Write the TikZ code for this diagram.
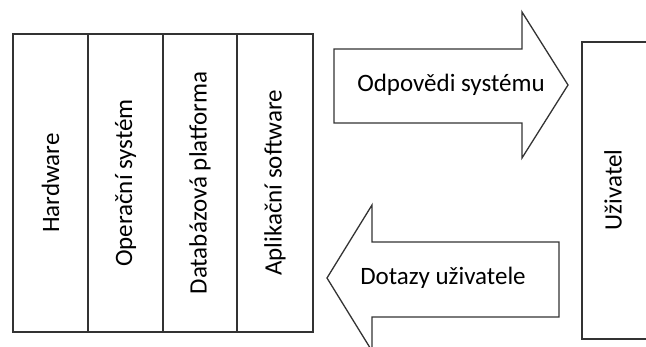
\documentclass[tikz,border=0pt]{standalone}
\usepackage{fontspec}
\setmainfont{Carlito}
\begin{document}
\begin{tikzpicture}[x=1pt,y=1pt,line width=1.3pt,draw=black!80,
  lbl/.style={font=\fontsize{25}{30}\selectfont,inner sep=0pt}]
\useasboundingbox (0,0) rectangle (646,347);
\clip (0,0) rectangle (646,347);
% vrstvy
\coordinate (L1) at (13,15);
\coordinate (L2) at (313,313);
\draw (L1) rectangle (L2);
\foreach \x in {88,163,237} \draw (\x,15)--(\x,313);
\node[lbl,rotate=90] (hw) at (50.5,164) {Hardware};
\node[lbl,rotate=90] (os) at (125.5,164) {Operační systém};
\node[lbl,rotate=90] (db) at (200,164) {Databázová platforma};
\node[lbl,rotate=90] (app) at (275,164) {Aplikační software};
% odpovedi
\draw (334,298)--(522,298)--(522,335)--(568,262)--(522,189)--(522,224)--(334,224)--cycle;
\node[lbl] (odp) at (451,262) {Odpovědi systému};
% dotazy
\draw (559,105)--(372,105)--(372,142)--(327,69)--(372,-4)--(372,30)--(559,30)--cycle;
\node[lbl] (dot) at (443,69) {Dotazy uživatele};
% uzivatel
\draw (582,8) rectangle (670,305);
\node[lbl,rotate=90] (user) at (613,157) {Uživatel};
\end{tikzpicture}
\end{document}
